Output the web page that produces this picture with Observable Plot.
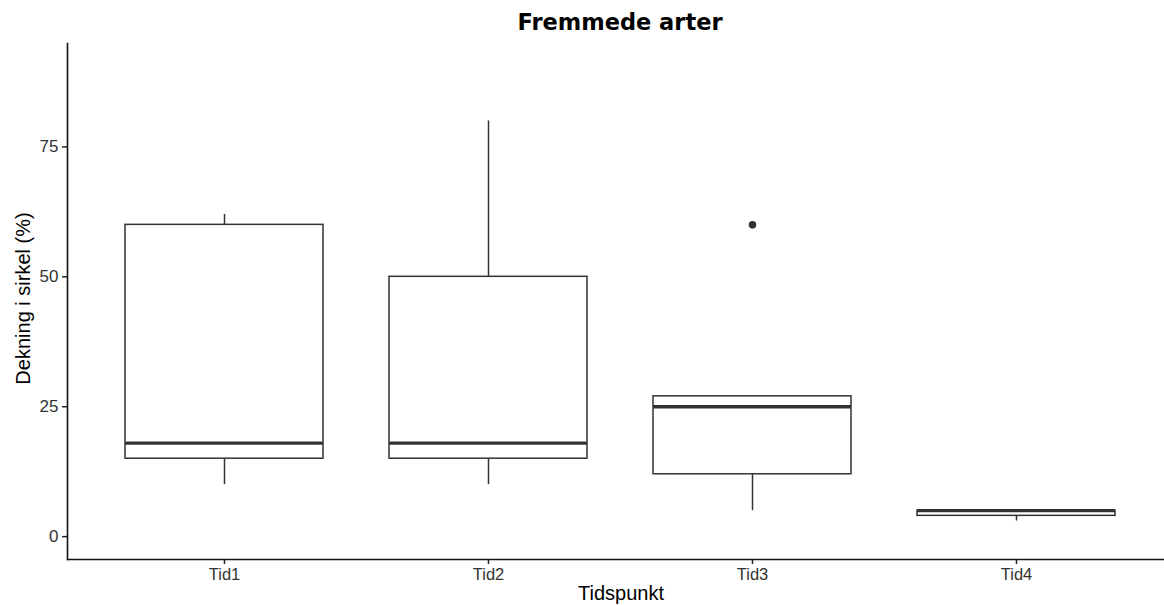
<!DOCTYPE html>
<html>
<head>
<meta charset="utf-8">
<script src="https://cdn.jsdelivr.net/npm/d3@7"></script>
<script src="https://cdn.jsdelivr.net/npm/@observablehq/plot@0.6"></script>
<style>
  html, body { margin: 0; padding: 0; background: #fff; }
  #wrap { position: relative; width: 1164px; height: 605px; overflow: hidden; }
  #title { position: absolute; top: 8px; left: 620px; transform: translateX(-50%);
           font-family: "DejaVu Sans", sans-serif; font-weight: bold; font-size: 22.5px;
           color: #000; white-space: nowrap; line-height: 28px; }
  #chart { position: absolute; top: 40px; left: 0; }
</style>
</head>
<body>
<div id="wrap">
  <div id="title">Fremmede arter</div>
  <div id="chart"></div>
</div>
<script>
const categories = ["Tid1", "Tid2", "Tid3", "Tid4"];
const whiskerLow  = [10, 10, 5, 3];
const q1          = [15, 15, 12, 4];
const median      = [18, 18, 25, 5];
const q3          = [60, 50, 27, 5];
const whiskerHigh = [62, 80, 27, 5];
const outlierCat  = ["Tid3"];
const outlierVal  = [60];
const yTicks = [0, 25, 50, 75];

const boxes = categories.map((c, i) => ({
  cat: c, lo: whiskerLow[i], q1: q1[i], med: median[i], q3: q3[i], hi: whiskerHigh[i]
}));
const outliers = outlierCat.map((c, i) => ({cat: c, v: outlierVal[i]}));

const lineColor = "#333333";
const font = "'Liberation Sans', Arial, Helvetica, sans-serif";

const chart = Plot.plot({
  width: 1164,
  height: 565,
  marginTop: 3,
  marginBottom: 46,
  marginLeft: 67,
  marginRight: 0,
  style: {fontFamily: font, background: "#fff", color: "#000"},
  x: {type: "band", domain: categories, range: [92, 1148], padding: 0, label: null},
  y: {domain: [-4.4, 94.9], label: null},
  marks: [
    // whiskers
    Plot.ruleX(boxes, {x: "cat", y1: "q3", y2: "hi", stroke: lineColor, strokeWidth: 1.5}),
    Plot.ruleX(boxes, {x: "cat", y1: "lo", y2: "q1", stroke: lineColor, strokeWidth: 1.5}),
    // boxes
    Plot.barY(boxes, {x: "cat", y1: "q1", y2: "q3", fill: "white", stroke: lineColor,
                      strokeWidth: 1.5, insetLeft: 33, insetRight: 33}),
    // medians
    Plot.tickY(boxes, {x: "cat", y: "med", stroke: lineColor, strokeWidth: 3.3,
                       insetLeft: 33, insetRight: 33}),
    // outliers
    Plot.dot(outliers, {x: "cat", y: "v", r: 3.8, fill: lineColor, stroke: "none"}),
    // axis lines
    Plot.frame({anchor: "left", stroke: "#111", strokeWidth: 1.6}),
    Plot.frame({anchor: "bottom", stroke: "#111", strokeWidth: 1.6}),
    // axes
    Plot.axisY({ticks: yTicks, tickSize: 5, tickPadding: 4, fontSize: 17, label: null,
                stroke: "#222", color: "#333", strokeWidth: 1.5}),
    Plot.axisX({tickSize: 5, tickPadding: 4, fontSize: 16.5, label: null,
                stroke: "#222", color: "#333", strokeWidth: 1.5}),
    // axis titles
    Plot.text(["Tidspunkt"], {frameAnchor: "bottom", dy: 40, dx: 5, text: d => d,
                              fontSize: 20, fill: "#000", textAnchor: "middle"}),
    Plot.text(["Dekning i sirkel (%)"], {frameAnchor: "left", dx: -44, dy: -3, rotate: -90,
                              textAnchor: "middle", text: d => d, fontSize: 20, fill: "#000"})
  ]
});
document.getElementById("chart").appendChild(chart);
</script>
</body>
</html>
